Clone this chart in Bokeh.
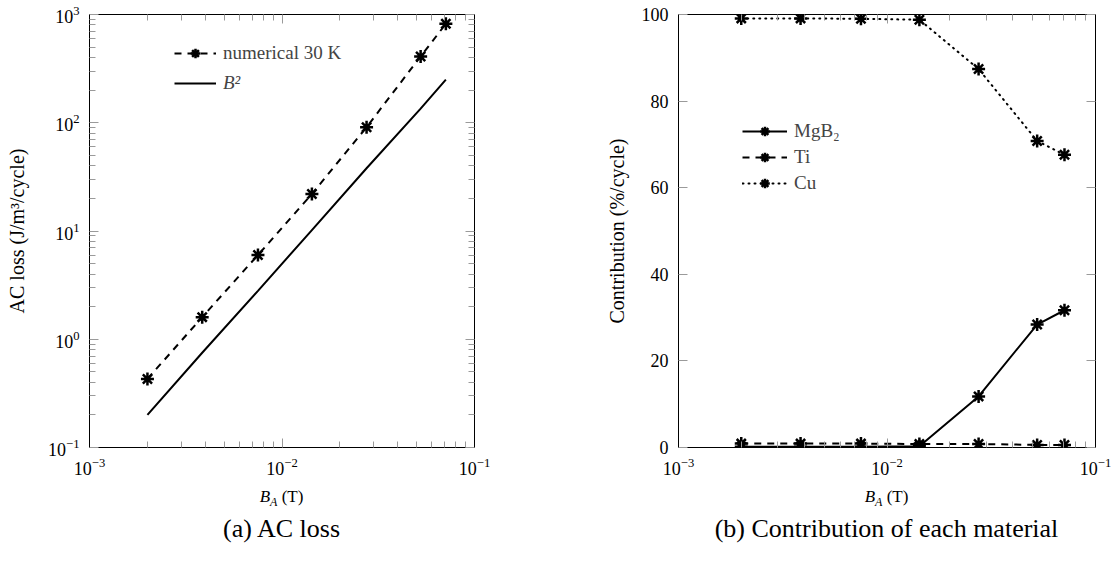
from bokeh.plotting import figure
from bokeh.models import (LogAxis, LinearAxis, FixedTicker, CustomJSTickFormatter,
                          LogTickFormatter, Legend, LegendItem, Range1d, Div)
from bokeh.layouts import row, column
from bokeh.embed import file_html
from bokeh.resources import INLINE

# ---------------- data ----------------
b_applied = [2.0e-3, 3.85e-3, 7.5e-3, 1.43e-2, 2.75e-2, 5.25e-2, 7.1e-2]
ac_loss_30k = [0.43, 1.6, 6.0, 22.0, 91.0, 410.0, 820.0]
b2_ref = [0.2, 0.75, 2.8, 10.2, 38.0, 135.0, 250.0]

contrib_mgb2 = [0.2, 0.2, 0.2, 0.3, 11.8, 28.4, 31.7]
contrib_ti = [0.9, 0.9, 0.9, 0.8, 0.8, 0.6, 0.6]
contrib_cu = [99.1, 99.1, 99.0, 98.8, 87.4, 70.8, 67.6]

x_major = [1e-3, 1e-2, 1e-1]
y_major_loss = [1e-1, 1e0, 1e1, 1e2, 1e3]
y_major_contrib = [0, 20, 40, 60, 80, 100]

FONT = "Liberation Serif"
TICK_FS = "18px"
LEG_FS = "19px"
AXL_FS = "20px"
XL_FS = "17px"
CAP_FS = "26px"
TICK_COL = "#9a9a9a"

blank_fmt = CustomJSTickFormatter(code="return ' ';")


def log_minor(decades):
    return [m * 10.0 ** d for d in decades for m in range(2, 10)]


def style_axis(ax, show_labels):
    ax.axis_line_color = "black"
    ax.axis_line_width = 1
    ax.major_tick_in = 9
    ax.major_tick_out = 0
    ax.minor_tick_in = 6
    ax.minor_tick_out = 0
    ax.major_tick_line_color = TICK_COL
    ax.minor_tick_line_color = TICK_COL
    ax.major_label_text_font = FONT
    ax.major_label_text_color = "black"
    ax.axis_label_text_font = FONT
    ax.axis_label_text_font_size = AXL_FS
    ax.axis_label_text_font_style = "normal"
    ax.axis_label_text_color = "black"
    if show_labels:
        ax.major_label_text_font_size = TICK_FS
        ax.major_label_standoff = 10
    else:
        ax.formatter = blank_fmt
        ax.major_label_text_font_size = "2px"
        ax.major_label_text_alpha = 0
        ax.major_label_standoff = 0


def make_fig(width, left, right, xr, yr, ytype):
    p = figure(width=width, height=487, x_axis_type="log", y_axis_type=ytype,
               x_range=xr, y_range=yr, output_backend="svg", toolbar_location=None,
               min_border_left=left, min_border_right=right, min_border_top=14,
               min_border_bottom=40)
    p.grid.visible = False
    p.outline_line_color = "black"
    p.background_fill_color = "white"
    p.border_fill_color = "white"
    return p


def style_legend(lg, style="normal"):
    lg.border_line_color = None
    lg.background_fill_alpha = 0
    lg.padding = 0
    lg.margin = 0
    lg.glyph_height = 24
    lg.label_height = 24
    lg.label_standoff = 7
    lg.label_text_font = FONT
    lg.label_text_font_size = LEG_FS
    lg.label_text_font_style = style
    lg.label_text_baseline = "middle"


def caption_div(width, frame_left, frame_width, caption):
    html = (
        f"<div style=\"margin-left:{frame_left}px;width:{frame_width}px;text-align:center;"
        f"font-family:'{FONT}';color:black;\">"
        f"<div style=\"font-size:{XL_FS};line-height:20px;\"><i>B</i><sub style=\"font-size:12px;\"><i>A</i></sub> (T)</div>"
        f"<div style=\"font-size:{CAP_FS};line-height:30px;margin-top:2px;\">{caption}</div>"
        f"</div>"
    )
    return Div(text=html, width=width, height=70, margin=0)


MK = dict(marker="asterisk", size=13, line_color="black", line_width=2.5)

# ---------------- (a) AC loss ----------------
p1 = make_fig(590, 89, 116, Range1d(1e-3, 1e-1), Range1d(0.1, 1000), "log")
xt1 = FixedTicker(ticks=x_major, minor_ticks=log_minor([-3, -2]))
yt1 = FixedTicker(ticks=y_major_loss, minor_ticks=log_minor([-1, 0, 1, 2]))
p1.xaxis.ticker = xt1
p1.yaxis.ticker = yt1
p1.xaxis.formatter = LogTickFormatter()
p1.yaxis.formatter = LogTickFormatter()
style_axis(p1.xaxis[0], True)
style_axis(p1.yaxis[0], True)
p1.yaxis.axis_label = "AC loss (J/m\u00b3/cycle)"
p1.yaxis.axis_label_standoff = 17
top1 = LogAxis(ticker=xt1)
right1 = LogAxis(ticker=yt1)
style_axis(top1, False)
style_axis(right1, False)
p1.add_layout(top1, "above")
p1.add_layout(right1, "right")

l_num = p1.line(b_applied, ac_loss_30k, line_color="black", line_width=2, line_dash="7 6")
s_num = p1.scatter(b_applied, ac_loss_30k, **MK)
l_b2 = p1.line(b_applied, b2_ref, line_color="black", line_width=2)

leg1 = Legend(items=[LegendItem(label="numerical 30 K", renderers=[l_num, s_num])],
              location=(85, 382))
leg2 = Legend(items=[LegendItem(label="B\u00b2", renderers=[l_b2])], location=(85, 352))
style_legend(leg1)
style_legend(leg2, "italic")
leg1.glyph_width = 42
leg2.glyph_width = 42
p1.add_layout(leg1)
p1.add_layout(leg2)

# ---------------- (b) Contribution ----------------
p2 = make_fig(527, 88, 22, Range1d(1e-3, 1e-1), Range1d(0, 100), "linear")
xt2 = FixedTicker(ticks=x_major, minor_ticks=log_minor([-3, -2]))
yt2 = FixedTicker(ticks=y_major_contrib, minor_ticks=[])
p2.xaxis.ticker = xt2
p2.yaxis.ticker = yt2
p2.xaxis.formatter = LogTickFormatter()
style_axis(p2.xaxis[0], True)
style_axis(p2.yaxis[0], True)
p2.yaxis.axis_label = "Contribution (%/cycle)"
p2.yaxis.axis_label_standoff = 11
top2 = LogAxis(ticker=xt2)
right2 = LinearAxis(ticker=yt2)
style_axis(top2, False)
style_axis(right2, False)
p2.add_layout(top2, "above")
p2.add_layout(right2, "right")

l_mg = p2.line(b_applied, contrib_mgb2, line_color="black", line_width=2)
s_mg = p2.scatter(b_applied, contrib_mgb2, **MK)
l_ti = p2.line(b_applied, contrib_ti, line_color="black", line_width=2, line_dash="7 6")
s_ti = p2.scatter(b_applied, contrib_ti, **MK)
l_cu = p2.line(b_applied, contrib_cu, line_color="black", line_width=2, line_dash="1 5",
               line_cap="round")
s_cu = p2.scatter(b_applied, contrib_cu, **MK)

leg3 = Legend(items=[LegendItem(label="MgB\u2082", renderers=[l_mg, s_mg]),
                     LegendItem(label="Ti", renderers=[l_ti, s_ti]),
                     LegendItem(label="Cu", renderers=[l_cu, s_cu])],
              location=(64, 252))
style_legend(leg3)
leg3.spacing = 2
leg3.glyph_width = 45
p2.add_layout(leg3)

div1 = caption_div(590, 89, 385, "(a) AC loss")
div2 = caption_div(527, 88, 417, "(b) Contribution of each material")

layout = column(row(p1, p2), row(div1, div2))
open("out.html", "w").write(file_html(layout, INLINE))
